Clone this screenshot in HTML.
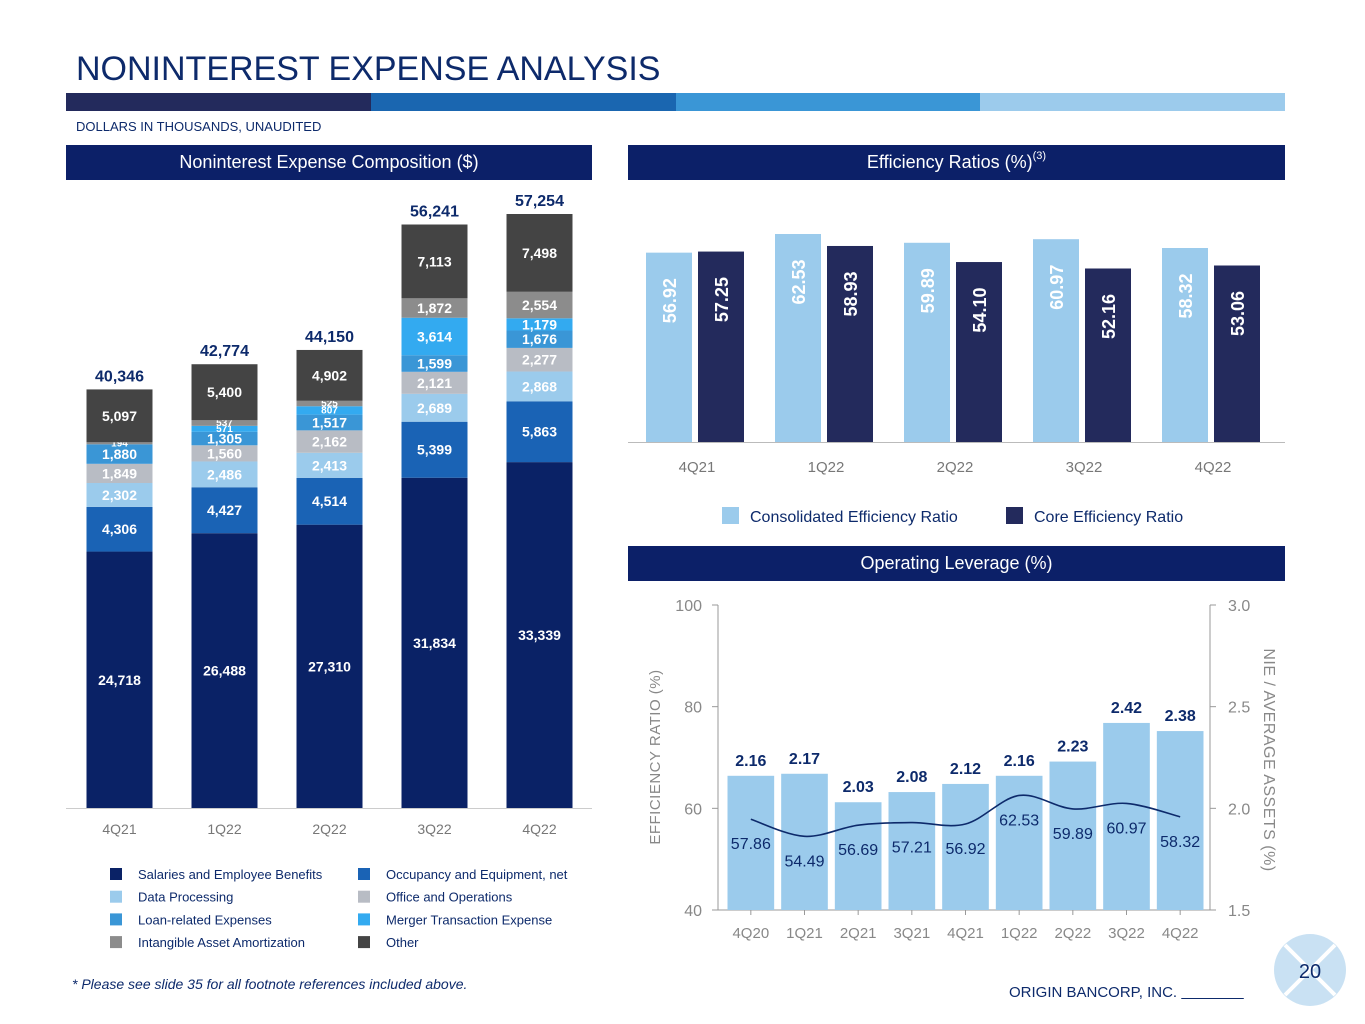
<!DOCTYPE html>
<html><head><meta charset="utf-8">
<style>
body{margin:0;width:1365px;height:1024px;background:#fff;font-family:"Liberation Sans",Arial,sans-serif;overflow:hidden;position:relative}
.abs{position:absolute}
.hdr{position:absolute;height:35px;background:#0c2068;color:#fff;font-size:18px;line-height:35px;text-align:center}
sup{font-size:11px;line-height:0;position:relative;top:-2px;vertical-align:super}
svg text{font-family:"Liberation Sans",Arial,sans-serif}
</style></head><body>
<div class="abs" style="left:76px;top:50px;font-size:34px;color:#0d2a6b">NONINTEREST EXPENSE ANALYSIS</div>
<div class="abs" style="left:66px;top:93px;width:1219px;height:18px;display:flex">
<div style="flex:1;background:#232a5c"></div><div style="flex:1;background:#1a66b0"></div><div style="flex:1;background:#3a96d6"></div><div style="flex:1;background:#9ccbec"></div></div>
<div class="abs" style="left:76px;top:119px;font-size:13px;color:#0d2a6b">DOLLARS IN THOUSANDS, UNAUDITED</div>
<div class="hdr" style="left:66px;top:145px;width:526px">Noninterest Expense Composition ($)</div>
<div class="hdr" style="left:628px;top:145px;width:657px">Efficiency Ratios (%)<sup>(3)</sup></div>
<div class="hdr" style="left:628px;top:546px;width:657px">Operating Leverage (%)</div>
<div class="abs" style="left:72px;top:976px;font-size:14px;font-style:italic;color:#0d2a6b">* Please see slide 35 for all footnote references included above.</div>
<div class="abs" style="left:1009px;top:984px;font-size:15px;color:#0d2a6b">ORIGIN BANCORP, INC. <span style="text-decoration:underline">&nbsp;&nbsp;&nbsp;&nbsp;&nbsp;&nbsp;&nbsp;&nbsp;&nbsp;&nbsp;&nbsp;&nbsp;&nbsp;&nbsp;&nbsp;</span></div>
<svg class="abs" style="left:0;top:0" width="1365" height="1024" id="svg">
<g>
<circle cx="1310" cy="970" r="36" fill="#c9e1f3"/>
<line x1="1285" y1="945" x2="1335" y2="995" stroke="#fff" stroke-width="4"/>
<line x1="1335" y1="945" x2="1285" y2="995" stroke="#fff" stroke-width="4"/>
<text x="1310" y="978" font-size="20" fill="#0d2a6b" text-anchor="middle">20</text>
</g>
</svg>
<script>
const NS='http://www.w3.org/2000/svg';
const svg=document.getElementById('svg');
function mk(tag,attrs,txt){const e=document.createElementNS(NS,tag);for(const k in attrs)e.setAttribute(k,attrs[k]);if(txt!=null)e.textContent=txt;svg.appendChild(e);return e;}

// ---------- Stacked chart data ----------
const quarters=['4Q21','1Q22','2Q22','3Q22','4Q22'];
const seriesNames=['Salaries and Employee Benefits','Occupancy and Equipment, net','Data Processing','Office and Operations','Loan-related Expenses','Merger Transaction Expense','Intangible Asset Amortization','Other'];
const salaries=[24718,26488,27310,31834,33339];
const occupancy=[4306,4427,4514,5399,5863];
const dataProc=[2302,2486,2413,2689,2868];
const office=[1849,1560,2162,2121,2277];
const loanRel=[1880,1305,1517,1599,1676];
const merger=[0,571,807,3614,1179];
const intangible=[194,537,525,1872,2554];
const other=[5097,5400,4902,7113,7498];
const totals=[40346,42774,44150,56241,57254];
const seriesColors=['#0a2266','#1a63b5','#9bcbec','#b8bcc4','#3a96d6','#33aaf0','#8c8c8c','#444444'];
const series=[salaries,occupancy,dataProc,office,loanRel,merger,intangible,other];

const sBase=808, sScale=594/57254, sX0=66, sBand=105, sBarW=66;
function sy(v){return sBase-v*sScale;}
function sx(i){return sX0+sBand*(i+0.5)+1;}
const fmt=v=>v.toLocaleString('en-US');
mk('line',{x1:66,y1:808.5,x2:592,y2:808.5,stroke:'#ccc','stroke-width':1});
quarters.forEach((q,i)=>{
  let acc=0;
  series.forEach((s,k)=>{
    const v=s[i]; if(!v){return;}
    const r=mk('rect',{x:sx(i)-sBarW/2,y:sy(acc+v),width:sBarW,height:v*sScale,fill:seriesColors[k]});
    
    
    const small=v*sScale<12;
    const t=mk('text',{x:sx(i),y:sy(acc+v/2)+(small?3:5),'font-size':small?10:14,'font-weight':'bold',fill:'#fff','text-anchor':'middle'},fmt(v));
    
    
    acc+=v;
  });
  const tt=mk('text',{x:sx(i),y:sy(totals[i])-8,'font-size':16,'font-weight':'bold',fill:'#0d2a6b','text-anchor':'middle'},fmt(totals[i]));
  
  
  const xl=mk('text',{x:sx(i),y:834,'font-size':14,fill:'#777','text-anchor':'middle'},q);
  
  
});
seriesNames.forEach((n,k)=>{
  const col=k%2,row=Math.floor(k/2);
  const x=col?358:110,y=868+row*22.7;
  const r=mk('rect',{x:x,y:y,width:12,height:12,fill:seriesColors[k]});
  
  
  const t=mk('text',{x:x+28,y:y+11,'font-size':13,fill:'#0d2a6b'},n);
  
  
});

// ---------- Efficiency ratio chart ----------
const effQuarters=['4Q21','1Q22','2Q22','3Q22','4Q22'];
const consolidated=[56.92,62.53,59.89,60.97,58.32];
const core=[57.25,58.93,54.10,52.16,53.06];
const eBase=442, eScale=208/62.53;
function ey(v){return eBase-v*eScale;}
function ex(i){return 697+129*i;}
mk('line',{x1:628,y1:442.5,x2:1285,y2:442.5,stroke:'#bbb','stroke-width':1});
effQuarters.forEach((q,i)=>{
  [[consolidated,'#9bcbec',-27],[core,'#232a5c',27]].forEach(([arr,c,off])=>{
    const v=arr[i],cx=ex(i)+off-3+(off>0?0:2);
    const r=mk('rect',{x:cx-23,y:ey(v),width:46,height:v*eScale,fill:c});
    
    
    const ty=ey(v)+48;
    const t=mk('text',{x:cx+7,y:ty,'font-size':18,'font-weight':'bold',fill:'#fff','text-anchor':'middle',transform:`rotate(-90 ${cx+7} ${ty})`},v.toFixed(2));
    
    
  });
  const xl=mk('text',{x:ex(i),y:472,'font-size':15,fill:'#777','text-anchor':'middle'},q);
  
  
});
[[722,'#9bcbec','Consolidated Efficiency Ratio'],[1006,'#232a5c','Core Efficiency Ratio']].forEach(([x,c,n])=>{
  const r=mk('rect',{x:x,y:507,width:17,height:17,fill:c});
  
  
  const t=mk('text',{x:x+28,y:522,'font-size':16,fill:'#0d2a6b'},n);
  
  
});

// ---------- Operating leverage chart ----------
const levQuarters=['4Q20','1Q21','2Q21','3Q21','4Q21','1Q22','2Q22','3Q22','4Q22'];
const nieAssets=[2.16,2.17,2.03,2.08,2.12,2.16,2.23,2.42,2.38];
const effRatio=[57.86,54.49,56.69,57.21,56.92,62.53,59.89,60.97,58.32];
const leftTicks=[40,60,80,100];
const rightTicks=['1.5','2.0','2.5','3.0'];
const pTop=605,pBot=910,axL=718,axR=1210,pL=724,pR=1207;
function ly(v){return pBot-(v-40)/60*(pBot-pTop);}
function ry(v){return pBot-(v-1.5)/1.5*(pBot-pTop);}
function lx(i){return pL+(pR-pL)/9*(i+0.5);}
mk('line',{x1:axL,y1:pTop,x2:axL,y2:pBot,stroke:'#999'});
mk('line',{x1:axR,y1:pTop,x2:axR,y2:pBot,stroke:'#999'});
mk('line',{x1:axL,y1:pBot,x2:axR,y2:pBot,stroke:'#999'});
leftTicks.forEach((v,k)=>{
  mk('line',{x1:axL-6,y1:ly(v),x2:axL,y2:ly(v),stroke:'#999'});
  const t=mk('text',{x:axL-16,y:ly(v)+6,'font-size':16,fill:'#888','text-anchor':'end'},String(v));
  
  
  const rv=parseFloat(rightTicks[k]);
  mk('line',{x1:axR,y1:ry(rv),x2:axR+6,y2:ry(rv),stroke:'#999'});
  const t2=mk('text',{x:axR+18,y:ry(rv)+6,'font-size':16,fill:'#888'},rightTicks[k]);
  
  
});
const bw=(pR-pL)/9-7;
levQuarters.forEach((q,i)=>{
  const v=nieAssets[i];
  const r=mk('rect',{x:lx(i)-bw/2,y:ry(v),width:bw,height:pBot-ry(v),fill:'#9bcbec'});
  
  
  const t=mk('text',{x:lx(i),y:ry(v)-10,'font-size':16,'font-weight':'bold',fill:'#0d2a6b','text-anchor':'middle'},v.toFixed(2));
  
  
  mk('line',{x1:lx(i),y1:pBot,x2:lx(i),y2:pBot+5,stroke:'#999'});
  const xl=mk('text',{x:lx(i),y:938,'font-size':15,fill:'#888','text-anchor':'middle'},q);
  
  
});
const pts=effRatio.map((v,i)=>[lx(i),ly(v)]);
let d='M'+pts[0][0]+','+pts[0][1];
for(let i=0;i<pts.length-1;i++){
  const p0=pts[Math.max(0,i-1)],p1=pts[i],p2=pts[i+1],p3=pts[Math.min(pts.length-1,i+2)];
  const c1=[p1[0]+(p2[0]-p0[0])/6,p1[1]+(p2[1]-p0[1])/6];
  const c2=[p2[0]-(p3[0]-p1[0])/6,p2[1]-(p3[1]-p1[1])/6];
  d+=` C${c1[0]},${c1[1]} ${c2[0]},${c2[1]} ${p2[0]},${p2[1]}`;
}
const ln=mk('path',{d:d,fill:'none',stroke:'#0d2a6b','stroke-width':1.6});


effRatio.forEach((v,i)=>{
  const t=mk('text',{x:lx(i),y:ly(v)+30,'font-size':16,fill:'#0d2a6b','text-anchor':'middle'},v.toFixed(2));
  
  
});
const yt=mk('text',{x:660,y:757,'font-size':15,fill:'#888','text-anchor':'middle',transform:'rotate(-90 660 757)','letter-spacing':'0.5'},'EFFICIENCY RATIO (%)');


const yt2=mk('text',{x:1264,y:760,'font-size':16,fill:'#888','text-anchor':'middle',transform:'rotate(90 1264 760)','letter-spacing':'0.5'},'NIE / AVERAGE ASSETS (%)');


</script>
</body></html>
